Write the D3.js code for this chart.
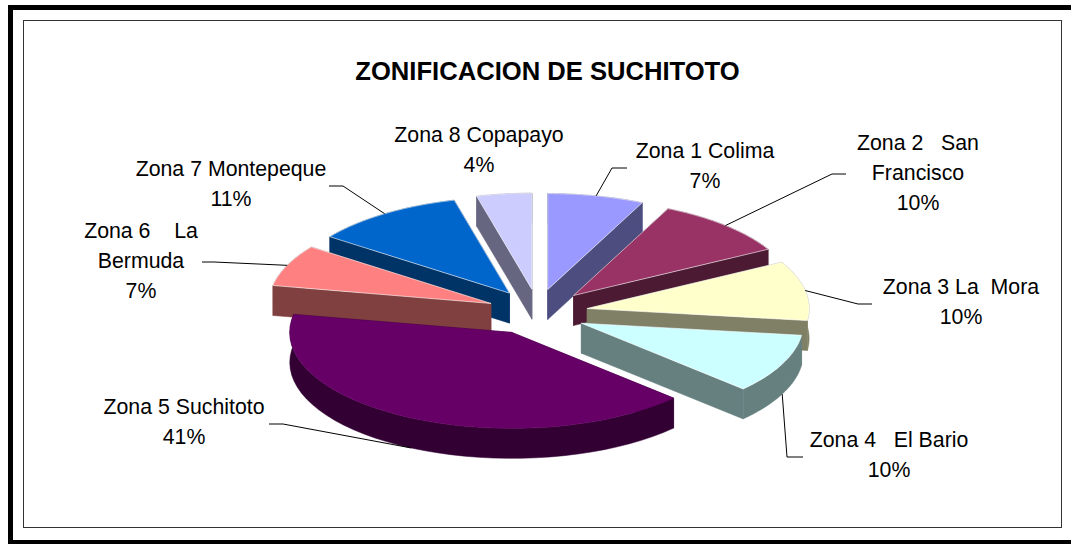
<!DOCTYPE html>
<html><head><meta charset="utf-8">
<script src="https://cdn.jsdelivr.net/npm/d3@7"></script>
<style>html,body{margin:0;padding:0;background:#fff;overflow:hidden}svg{display:block}
text{font-family:"Liberation Sans",Arial,sans-serif;fill:#000}</style></head>
<body><svg width="1071" height="544"></svg>
<script>
const zones = ["Zona 1 Colima","Zona 2 San Francisco","Zona 3 La Mora","Zona 4 El Bario","Zona 5 Suchitoto","Zona 6 La Bermuda","Zona 7 Montepeque","Zona 8 Copapayo"];
const percents = [7,10,10,10,41,7,11,4];
const topColors = ["#9999FF","#993366","#FFFFCC","#CCFFFF","#660066","#FF8080","#0066CC","#CCCCFF"];
const sideColors = ["#4D4D80","#4D1A33","#808066","#668080","#330033","#804040","#003366","#666680"];
const labelLines = [
  ["Zona 1 Colima","7%"],
  ["Zona 2   San","Francisco","10%"],
  ["Zona 3 La  Mora","10%"],
  ["Zona 4   El Bario","10%"],
  ["Zona 5 Suchitoto","41%"],
  ["Zona 6    La","Bermuda","7%"],
  ["Zona 7 Montepeque","11%"],
  ["Zona 8 Copapayo","4%"]
];
const labelAnchor = [[705,158],[918,150],[961,294],[889,447],[184,414],[141,238],[231,176],[479,142]];
const leaderElbow = [[612,168],[832,174],[858,304],[787,457],[283,424],[214,262],[343,186],null];
const leaderEnd = [[627,168],[846,174],[872,304],[803,457],[269,424],[202,262],[329,186],null];
const sliceNudgeX = [0,3,2,0,-3,-1,0,1];
const sliceNudgeY = [0,0,0,0,-2,0,0,0];
const drawOrder = [7,0,6,1,5,2,3,4];

const svg = d3.select("svg");
const cx = 537, cy = 313, rx = 222, ry = 96, depth = 30, explodeX = 49, explodeY = 24;
const lineH = 30;

// frame
svg.append("path").attr("d","M10.5 544V7.5H1071").attr("fill","none").attr("stroke","#000").attr("stroke-width",5);
svg.append("rect").attr("x",8).attr("y",540).attr("width",1063).attr("height",4).attr("fill","#000");
svg.append("rect").attr("x",23.5).attr("y",20.5).attr("width",1038).attr("height",507).attr("fill","#fff").attr("stroke","#333").attr("stroke-width",1);

svg.append("text").attr("x",547.5).attr("y",80).attr("text-anchor","middle")
   .attr("font-size",25.6).attr("font-weight","bold").text("ZONIFICACION DE SUCHITOTO");

const pie = d3.pie().sort(null).value(d=>d)(percents);
const line = d3.line();
function apex(a){const m=(a.startAngle+a.endAngle)/2;
  return [cx+explodeX*Math.sin(m)+sliceNudgeX[a.index], cy-explodeY*Math.cos(m)+sliceNudgeY[a.index]];}
function rim(c,t,dy=0){return [c[0]+rx*Math.sin(t), c[1]-ry*Math.cos(t)+dy];}
function arcPts(a,c,dy=0){
  return d3.range(0,41).map(i=>rim(c,a.startAngle+(a.endAngle-a.startAngle)*i/40,dy));
}
const g = svg.append("g");
drawOrder.forEach(i=>{
  const a = pie[i], c = apex(a), rimPts = arcPts(a,c);
  const low = [c[0],c[1]+depth];
  const s = g.append("g");
  const p0 = rimPts[0], p1 = rimPts[rimPts.length-1];
  [p0,p1].forEach(p=>{
    s.append("path").attr("d",line([c,p,[p[0],p[1]+depth],low])+"Z")
      .attr("fill",sideColors[i]).attr("stroke",sideColors[i]).attr("stroke-width",.5);
  });
  const wall = rimPts.concat(arcPts(a,c,depth).reverse());
  s.append("path").attr("d",line(wall)+"Z").attr("fill",sideColors[i]).attr("stroke",sideColors[i]).attr("stroke-width",.5);
  s.append("path").attr("d",line([c].concat(rimPts))+"Z").attr("fill",topColors[i])
    .attr("stroke",i===4?topColors[i]:"#fff").attr("stroke-width",i===4?.5:.6);
});

// leaders
pie.forEach((a,i)=>{
  if(!leaderElbow[i]) return;
  const m=(a.startAngle+a.endAngle)/2;
  const front = Math.cos(m)<0;
  const st = rim(apex(a),m,front?depth:0);
  svg.append("path").attr("d",line([st,leaderElbow[i],leaderEnd[i]]))
    .attr("fill","none").attr("stroke","#000").attr("stroke-width",1);
});

// labels
labelLines.forEach((ls,i)=>{
  const t = svg.append("text").attr("text-anchor","middle").attr("font-size",21.3)
    .style("white-space","pre");
  ls.forEach((l,j)=>t.append("tspan").attr("x",labelAnchor[i][0]).attr("y",labelAnchor[i][1]+j*lineH).text(l));
});
</script></body></html>
